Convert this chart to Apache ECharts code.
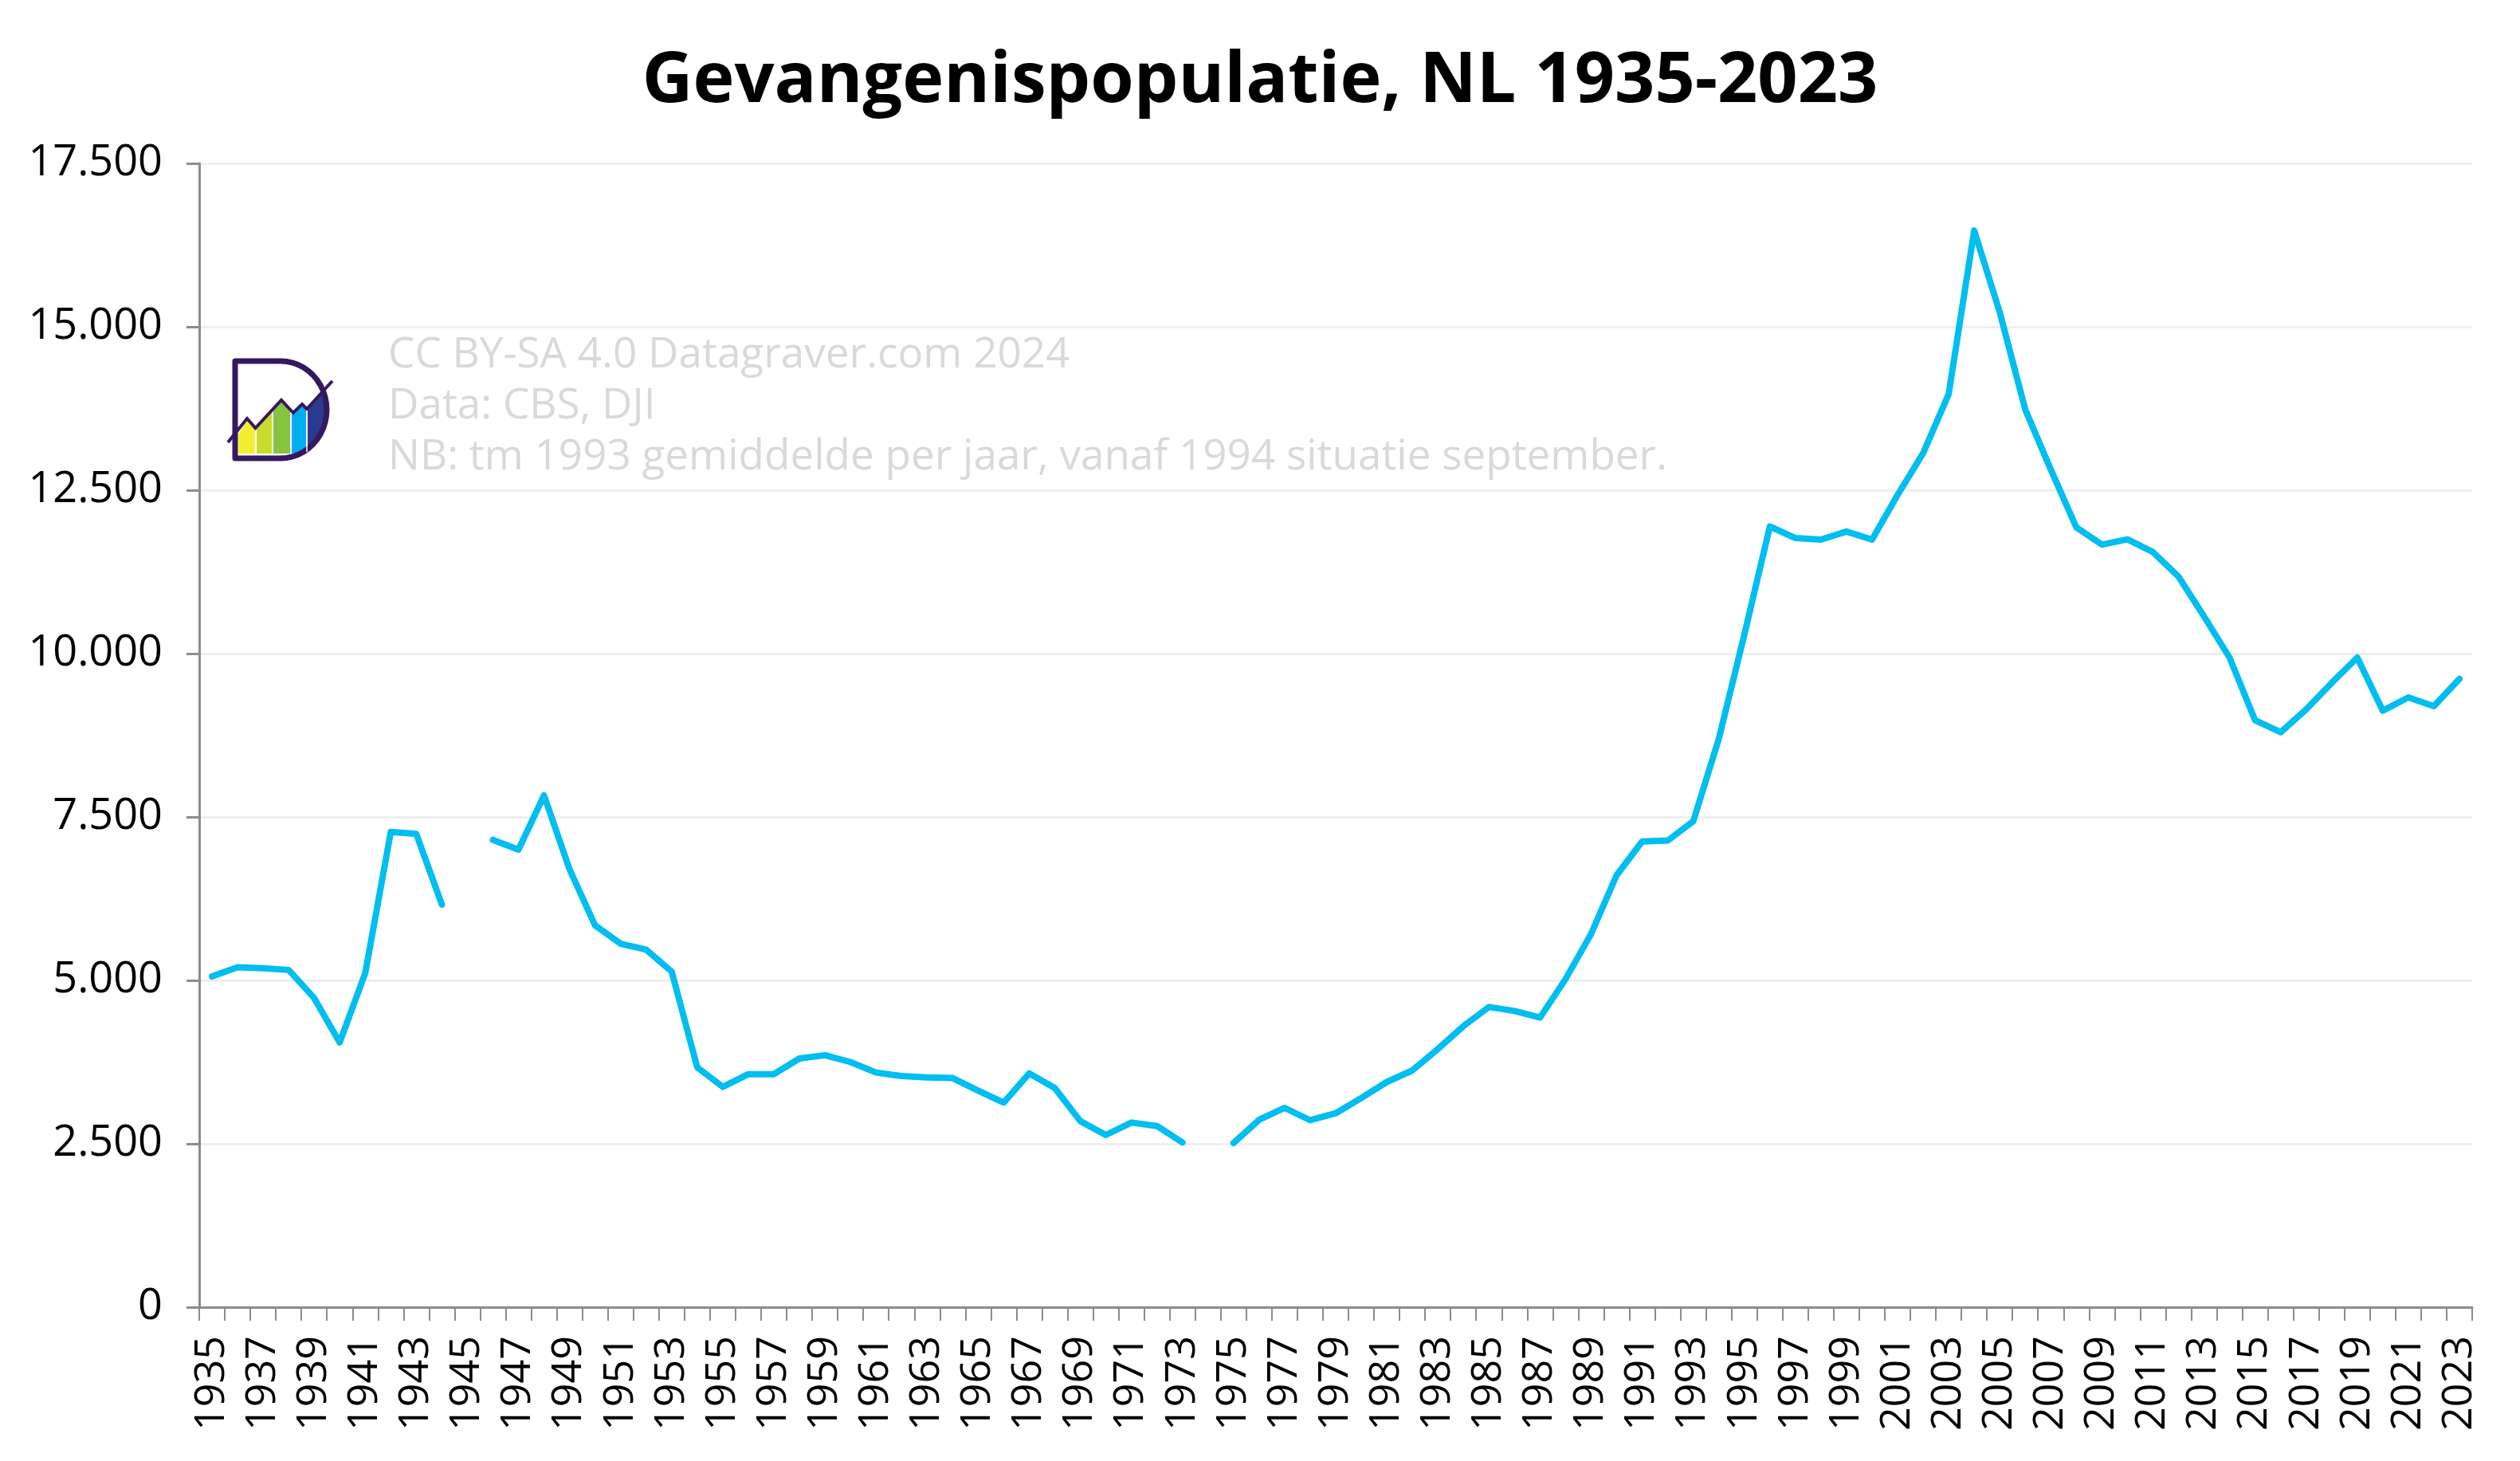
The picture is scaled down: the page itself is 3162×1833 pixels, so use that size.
<!DOCTYPE html>
<html>
<head>
<meta charset="utf-8">
<script src="https://cdn.jsdelivr.net/npm/echarts@6/dist/echarts.min.js"></script>
<style>
html,body{margin:0;padding:0;background:#fff;}
#chart{width:3162px;height:1833px;}
</style>
</head>
<body>
<div id="chart"></div>
<script>
var years = [];
for (var y = 1935; y <= 2023; y++) years.push(String(y));

var population = [
  5060, 5200, 5185, 5160, 4730, 4050, 5110, 7270, 7240, 6160,
  null, 7150, 7000, 7830, 6700, 5840, 5560, 5470, 5135, 3670,
  3370, 3565, 3565, 3805, 3855, 3750, 3590, 3537, 3516, 3505,
  3313, 3130, 3577, 3354, 2846, 2634, 2825, 2772, 2520, null,
  2512, 2866, 3049, 2860, 2967, 3200, 3445, 3622, 3950, 4300,
  4593, 4532, 4431, 5020, 5711, 6610, 7125, 7139, 7434, 8695,
  10289, 11945, 11768, 11744, 11868, 11744, 12427, 13066, 13968, 16472,
  15224, 13734, 12815, 11931, 11667, 11748, 11553, 11179, 10569, 9939,
  8979, 8797, 9146, 9553, 9939, 9126, 9329, 9195, 9614
];

var yTicks = [0, 2500, 5000, 7500, 10000, 12500, 15000, 17500];

var titleText = 'Gevangenispopulatie, NL 1935-2023';
var notes = [
  'CC BY-SA 4.0 Datagraver.com 2024',
  'Data: CBS, DJI',
  'NB: tm 1993 gemiddelde per jaar, vanaf 1994 situatie september.'
];

function fmt(v) {
  return String(v).replace(/\B(?=(\d{3})+(?!\d))/g, '.');
}

var chart = echarts.init(document.getElementById('chart'), null, {renderer: 'canvas'});

var purple = '#34195e';
// logo outline (decorative)
var dPts = [[295, 575], [295, 453], [352, 453]];
for (var k = 1; k < 24; k++) {
  var a = -Math.PI / 2 + Math.PI * k / 24;
  dPts.push([352 + 58 * Math.cos(a), 514 + 61 * Math.sin(a)]);
}
dPts.push([352, 575]);

var logo = [
  {type: 'polygon', shape: {points: [[299,569],[299,545],[310,527],[320,538],[320,569]]}, style: {fill: '#f4ee32'}},
  {type: 'polygon', shape: {points: [[322,569],[322,535],[341,516],[341,569]]}, style: {fill: '#cadc2b'}},
  {type: 'polygon', shape: {points: [[343,569],[343,513],[353,503],[364,514],[364,569]]}, style: {fill: '#85c441'}},
  {type: 'polygon', shape: {points: [[366,569],[366,516],[379,508],[384,513],[384,566],[375,568]]}, style: {fill: '#00aeef'}},
  {type: 'polygon', shape: {points: [[386,566],[386,512],[405,492],[408,505],[406,532],[398,552]]}, style: {fill: '#2b3990'}},
  {type: 'polygon', shape: {points: dPts}, style: {fill: null, stroke: purple, lineWidth: 7, lineJoin: 'round'}},
  {type: 'polyline', shape: {points: [[286,555],[310,525],[320.5,537],[353,502],[368,518],[379,507],[385,513],[417,478]]},
   style: {stroke: purple, lineWidth: 4, fill: null}},
  {type: 'polyline', shape: {points: [[320.5,540],[320.5,569]]}, style: {stroke: '#fff', lineWidth: 1.5}},
  {type: 'polyline', shape: {points: [[342,520],[342,569]]}, style: {stroke: '#fff', lineWidth: 1.5}},
  {type: 'polyline', shape: {points: [[365,518],[365,569]]}, style: {stroke: '#fff', lineWidth: 1.5}},
  {type: 'polyline', shape: {points: [[385,515],[385,567]]}, style: {stroke: '#fff', lineWidth: 1.5}}
];

var option = {
  backgroundColor: '#ffffff',
  animation: false,
  title: {
    text: titleText,
    left: 'center',
    top: 54,
    textStyle: {fontFamily: 'Open Sans', fontWeight: 'bold', fontSize: 88, color: '#000'}
  },
  graphic: logo.concat([
    {
      type: 'text',
      left: 487,
      top: 414,
      style: {
        text: notes.join('\n'),
        fontFamily: 'Open Sans',
        fontSize: 53,
        lineHeight: 64,
        fill: '#d9d9d9'
      },
      z: 1
    }
  ]),
  grid: {left: 250, right: 60, top: 205, bottom: 193, containLabel: false},
  xAxis: {
    type: 'category',
    data: years,
    boundaryGap: true,
    axisLine: {show: true, lineStyle: {color: '#8c8c8c', width: 3}},
    axisTick: {show: true, interval: 0, length: 17, lineStyle: {color: '#8c8c8c', width: 2}},
    axisLabel: {
      interval: 1,
      rotate: 90,
      margin: 36,
      fontFamily: 'Open Sans',
      fontSize: 52,
      color: '#000'
    },
    splitLine: {show: false}
  },
  yAxis: {
    type: 'value',
    min: 0,
    max: 17500,
    interval: 2500,
    axisLine: {show: true, lineStyle: {color: '#8c8c8c', width: 3}},
    axisTick: {show: true, length: 16, lineStyle: {color: '#8c8c8c', width: 3}},
    axisLabel: {
      margin: 46,
      fontFamily: 'Open Sans',
      fontSize: 54,
      color: '#000',
      formatter: function (v) { return fmt(v); }
    },
    splitLine: {show: true, lineStyle: {color: '#efefef', width: 3}}
  },
  series: [{
    type: 'line',
    data: population,
    connectNulls: false,
    showSymbol: false,
    symbol: 'none',
    lineStyle: {color: '#00bef0', width: 8, cap: 'round', join: 'round'},
    z: 3
  }]
};
chart.setOption(option);
</script>
</body>
</html>
